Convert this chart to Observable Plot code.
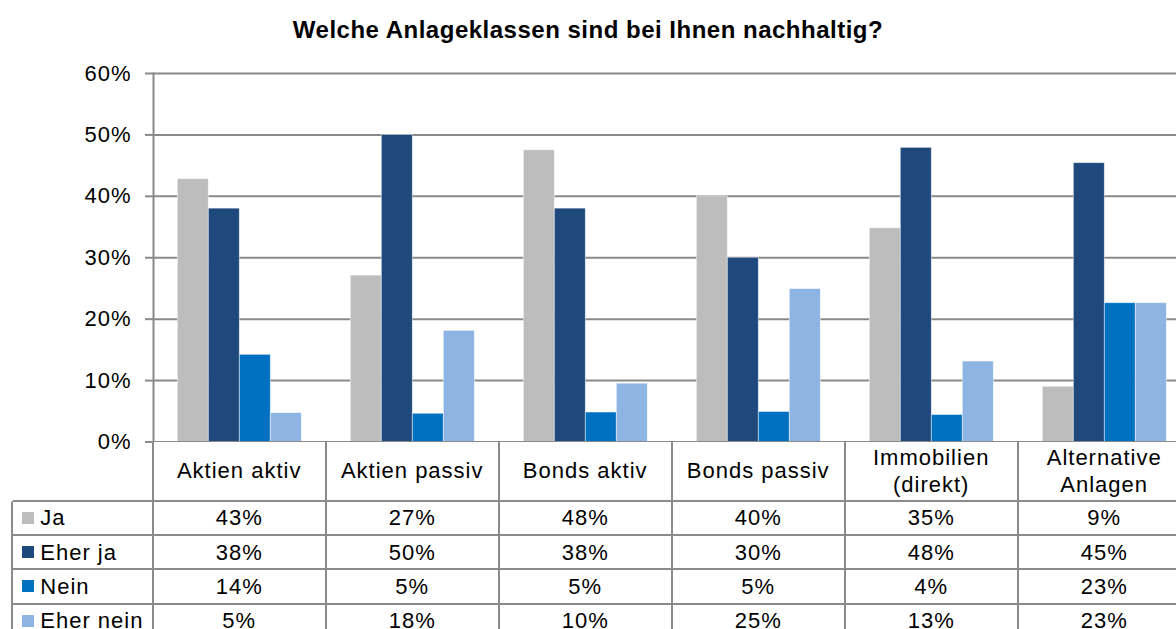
<!DOCTYPE html>
<html>
<head>
<meta charset="utf-8">
<script src="https://cdn.jsdelivr.net/npm/d3@7"></script>
<script src="https://cdn.jsdelivr.net/npm/@observablehq/plot@0.6"></script>
<style>
  html, body { margin: 0; padding: 0; background: #fff; }
  body { width: 1176px; height: 629px; overflow: hidden; position: relative;
         font-family: "Liberation Sans", Arial, sans-serif; color: #000; }
  #title { height: 56.5px; line-height: 60px; text-align: center; font-weight: bold;
           font-size: 24px; letter-spacing: 0.5px; white-space: nowrap; }
  #chart { width: 1200px; }
  #chart svg { display: block; max-width: none !important; width: 1200px !important; height: 384.5px !important; }
  .grid { position: absolute; display: grid; background: #8a8a8a; column-gap: 2px; row-gap: 2px; }
  #header { top: 441.5px; left: 151.7px; height: 58.2px; border-left: 2px solid #8a8a8a; border-right: 2px solid #8a8a8a;
            grid-template-columns: repeat(6, 171px); }
  #rows { top: 499.7px; left: 11.3px; border-top: 2px solid #8a8a8a; border-left: 2px solid #8a8a8a; border-top-left-radius: 4px;
          grid-template-columns: 138.4px repeat(6, 171px); grid-auto-rows: 32.3px; }
  .cell { background: #fff; display: flex; align-items: center; justify-content: center; text-align: center;
          font-size: 22px; letter-spacing: 1px; line-height: 27px; white-space: pre-line; }
  .lead { justify-content: flex-start; padding-left: 8.4px; text-align: left; }
  .key { width: 12px; height: 12px; margin-right: 6.6px; flex: none; }
</style>
</head>
<body>
<div id="title">Welche Anlageklassen sind bei Ihnen nachhaltig?</div>
<div id="chart"></div>
<div id="header" class="grid"></div>
<div id="rows" class="grid"></div>
<script>
// ---- data ----
const categories = ["Aktien aktiv", "Aktien passiv", "Bonds aktiv", "Bonds passiv", "Immobilien (direkt)", "Alternative Anlagen"];
const categoryLabels = ["Aktien aktiv", "Aktien passiv", "Bonds aktiv", "Bonds passiv", "Immobilien\n(direkt)", "Alternative\nAnlagen"];
const seriesNames = ["Ja", "Eher ja", "Nein", "Eher nein"];
const seriesColors = ["#bdbdbd", "#1f497d", "#0070c0", "#8eb4e3"];
const ja       = [42.8, 27.1, 47.5, 40.0, 34.8,  9.0];
const eherJa   = [38.0, 50.0, 38.0, 30.0, 47.9, 45.4];
const nein     = [14.2,  4.6,  4.8,  4.9,  4.4, 22.6];
const eherNein = [ 4.7, 18.1,  9.5, 24.9, 13.1, 22.6];
const yTicks = [0, 10, 20, 30, 40, 50, 60];

const seriesValues = [ja, eherJa, nein, eherNein];
const data = [];
seriesValues.forEach((vals, s) => vals.forEach((v, i) => data.push({category: categories[i], series: seriesNames[s], value: v})));

const gridColor = "#8a8a8a";

const chart = Plot.plot({
  width: 1200,
  height: 384.5,
  marginTop: 16,
  marginBottom: 0,
  marginLeft: 152.7,
  marginRight: 9.3,
  style: {fontFamily: "'Liberation Sans', Arial, sans-serif", fontSize: "22px", color: "#000", background: "transparent", letterSpacing: "1px", overflow: "visible", maxWidth: "none"},
  fx: {domain: categories, padding: 0, axis: null},
  x: {domain: seriesNames, paddingInner: 0, paddingOuter: 0.769, axis: null},
  y: {domain: [0, 60], axis: null},
  color: {domain: seriesNames, range: seriesColors},
  marks: [
    Plot.gridY(yTicks.filter(d => d > 0), {stroke: gridColor, strokeOpacity: 1, strokeWidth: 2}),
    Plot.barY(data, {fx: "category", x: "series", y: "value", fill: "series", stroke: "#fff", strokeOpacity: 0.6, strokeWidth: 0.8}),
    Plot.ruleY([0], {stroke: gridColor, strokeWidth: 2}),
    Plot.axisY(yTicks, {label: null, tickSize: 8, tickPadding: 14, stroke: gridColor, strokeWidth: 2, fill: "#000", fontSize: 22, tickFormat: d => d + "%"}),
    Plot.frame({anchor: "left", stroke: gridColor, strokeWidth: 2, facetAnchor: "left"})
  ]
});
document.getElementById("chart").appendChild(chart);

// ---- data table (header + rows) ----
const header = document.getElementById("header");
categoryLabels.forEach(label => {
  const c = document.createElement("div");
  c.className = "cell";
  c.textContent = label;
  header.appendChild(c);
});
const rows = document.getElementById("rows");
seriesNames.forEach((name, s) => {
  const lead = document.createElement("div");
  lead.className = "cell lead";
  const key = document.createElement("span");
  key.className = "key";
  key.style.background = seriesColors[s];
  lead.appendChild(key);
  lead.appendChild(document.createTextNode(name));
  rows.appendChild(lead);
  seriesValues[s].forEach(v => {
    const c = document.createElement("div");
    c.className = "cell";
    c.textContent = Math.round(v) + "%";
    rows.appendChild(c);
  });
});
</script>
</body>
</html>
